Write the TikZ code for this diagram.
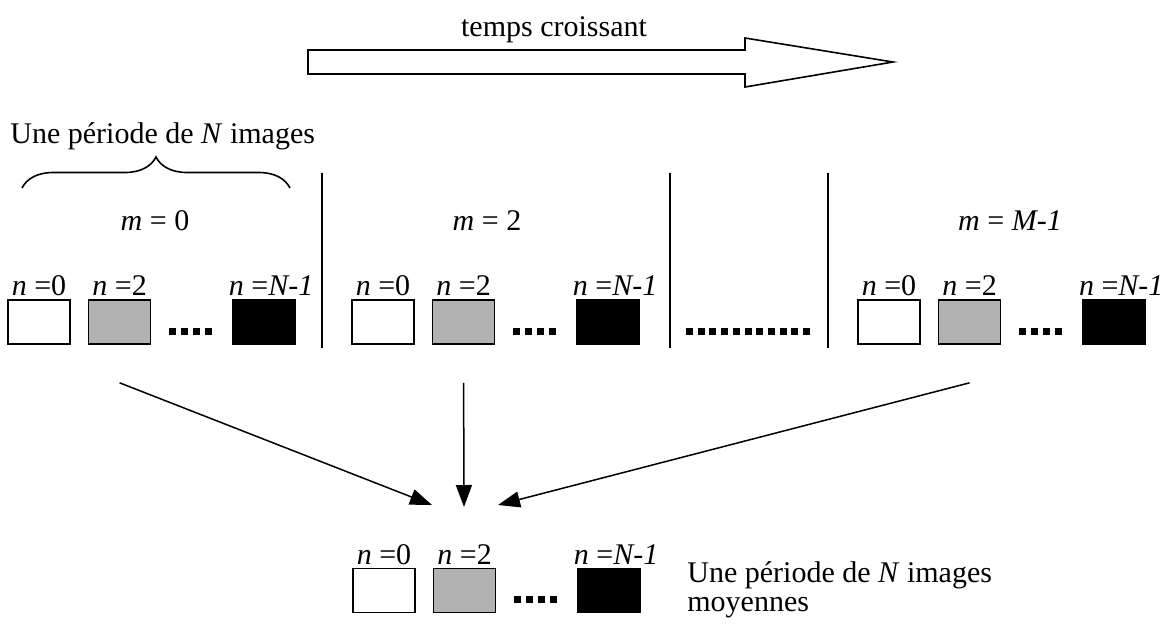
\documentclass[tikz,border=0pt]{standalone}
\usepackage{fontspec}
\setmainfont{Liberation Serif}
\usetikzlibrary{arrows.meta,positioning,decorations.pathreplacing}
\definecolor{imggray}{RGB}{178,178,178}

\begin{document}
\begin{tikzpicture}[
    x=0.5pt, y=-0.5pt,
    >={Triangle[length=11pt, width=8pt]},
    font=\fontsize{15}{18}\selectfont,
    frame/.style={rectangle, draw, line width=0.8pt, minimum width=31pt, minimum height=22pt, inner sep=0pt},
    lbl/.style={inner sep=0pt},
    dotrow/.style={line width=3.5pt, dash pattern=on 3.5pt off 2.35pt},
    sep/.style={line width=0.75pt},
]
\useasboundingbox (0,0) rectangle (1167,623);

% time arrow
\draw[line width=0.8pt] (308,50) -- (745,50) -- (745,38) -- (893,62) -- (745,87) -- (745,74) -- (308,74) -- cycle;
\node[lbl, anchor=base] (tps) at (554,36) {temps croissant};

% one period of N images
\node[lbl, anchor=base west] (per) at (10,143) {Une période de \textit{N} images};
\draw[line width=0.8pt, decorate, decoration={brace, amplitude=15.5pt}] (22,188) -- (290,188);

% separators
\draw[sep] (322,173) -- (322,348);
\draw[sep] (670,173) -- (670,348);
\draw[sep] (828,173) -- (828,348);
\draw[dotrow] (686,331) -- ++(62pt,0);

\node[lbl, anchor=base] (m0) at (155,230) {\textit{m} = 0};
\node[lbl, anchor=base] (m2) at (487,230) {\textit{m} = 2};
\node[lbl, anchor=base] (mM) at (1010,230) {\textit{m} = \textit{M-1}};

% period m = 0
\node[frame, fill=white] (wA) at (39,322) {};
\node[frame, fill=imggray, right=8.5pt of wA] (gA) {};
\node[frame, fill=black, right=40.5pt of gA] (kA) {};
\draw[dotrow] ([xshift=9pt, yshift=-4.5pt]gA.east) -- ++(21.05pt,0);
\node[lbl, above=1.5pt of wA] (nwA) {\textit{n} =0};
\node[lbl, above=1.5pt of gA] (ngA) {\textit{n} =2};
\node[lbl, above=1.5pt of kA, xshift=3.5pt] (nkA) {\textit{n} =\textit{N-1}};

% period m = 2
\node[frame, fill=white] (wB) at (383,322) {};
\node[frame, fill=imggray, right=8.5pt of wB] (gB) {};
\node[frame, fill=black, right=40.5pt of gB] (kB) {};
\draw[dotrow] ([xshift=9pt, yshift=-4.5pt]gB.east) -- ++(21.05pt,0);
\node[lbl, above=1.5pt of wB] (nwB) {\textit{n} =0};
\node[lbl, above=1.5pt of gB] (ngB) {\textit{n} =2};
\node[lbl, above=1.5pt of kB, xshift=3.5pt] (nkB) {\textit{n} =\textit{N-1}};

% period m = M-1
\node[frame, fill=white] (wC) at (889,322) {};
\node[frame, fill=imggray, right=8.5pt of wC] (gC) {};
\node[frame, fill=black, right=40.5pt of gC] (kC) {};
\draw[dotrow] ([xshift=9pt, yshift=-4.5pt]gC.east) -- ++(21.05pt,0);
\node[lbl, above=1.5pt of wC] (nwC) {\textit{n} =0};
\node[lbl, above=1.5pt of gC] (ngC) {\textit{n} =2};
\node[lbl, above=1.5pt of kC, xshift=3.5pt] (nkC) {\textit{n} =\textit{N-1}};

% averaged period
\node[frame, fill=white] (wD) at (384,590.5) {};
\node[frame, fill=imggray, right=8.5pt of wD] (gD) {};
\node[frame, fill=black, right=40.5pt of gD] (kD) {};
\draw[dotrow] ([xshift=9pt, yshift=-4.5pt]gD.east) -- ++(21.05pt,0);
\node[lbl, above=1.5pt of wD] (nwD) {\textit{n} =0};
\node[lbl, above=1.5pt of gD] (ngD) {\textit{n} =2};
\node[lbl, above=1.5pt of kD, xshift=3.5pt] (nkD) {\textit{n} =\textit{N-1}};
\node[lbl, anchor=base west] (avg) at (687,582) {Une période de \textit{N} images};
\node[lbl, anchor=base west] (avg2) at ([yshift=-14.5pt]avg.base west) {moyennes};

% averaging arrows
\coordinate (inL) at (432,505);
\coordinate (inM) at (464,507);
\coordinate (inR) at (498,505);
\draw[->, line width=0.75pt] ([yshift=-19pt]gA.south) -- (inL);
\draw[->, line width=0.75pt] ([yshift=-19pt]gB.south) -- (inM);
\draw[->, line width=0.75pt] ([yshift=-19pt]gC.south) -- (inR);
\end{tikzpicture}
\end{document}
